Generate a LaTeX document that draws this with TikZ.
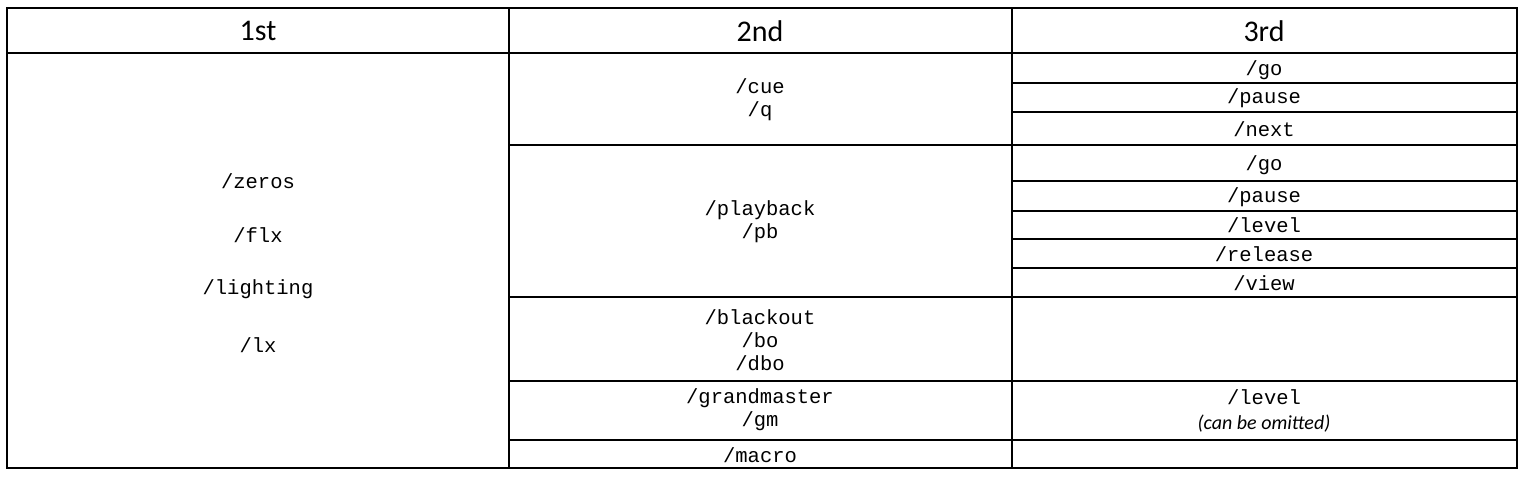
\documentclass[tikz,border=0pt]{standalone}
\usepackage{fontspec}
\setmainfont{Carlito}
\newfontfamily\monofont{Liberation Mono}
\tikzset{
  rule/.style={line width=1.3pt},
  cmd/.style={inner sep=0.75pt, font=\monofont\fontsize{20.5}{23}\selectfont, align=center},
  head/.style={inner sep=0.75pt, font=\fontsize{30}{32}\selectfont},
}
\begin{document}
\begin{tikzpicture}[x=1pt,y=1pt,yscale=-1,xscale=1]
  \useasboundingbox (0,0) rectangle (1524,477);
  % outer frame and column rules
  \draw [rule] (7,8) rectangle (1517,468);
  \draw [rule] (7,53) -- (1517,53);
  \draw [rule] (509,8) -- (509,468);
  \draw [rule] (1012,8) -- (1012,468);
  % row rules of 2nd and 3rd column
  \foreach \y in {145,297,381,440}
    \draw [rule] (509,\y) -- (1517,\y);
  % row rules of 3rd column only
  \foreach \y in {83,112,181,211,239,268}
    \draw [rule] (1012,\y) -- (1517,\y);
  % Text Node
  \node [head] (h1) at (258,31) {1st};
  \node [head] (h2) at (760,31) {2nd};
  \node [head] (h3) at (1264,31) {3rd};
  % Text Node
  \node [cmd] (zeros) at (258,181) {/zeros};
  \node [cmd] (flx) at (258,235) {/flx};
  \node [cmd] (lighting) at (258,289) {/lighting};
  \node [cmd] (lx) at (258,345) {/lx};
  % Text Node
  \node [cmd] (cue) at (760,100) {/cue\\/q};
  \node [cmd] (playback) at (760,222) {/playback\\/pb};
  \node [cmd] (blackout) at (760,340) {/blackout\\/bo\\/dbo};
  \node [cmd] (grandmaster) at (760,410) {/grandmaster\\/gm};
  \node [cmd] (macro) at (760,455) {/macro};
  % Text Node
  \node [cmd] (cuego) at (1264,70) {/go};
  \node [cmd] (cuepause) at (1264,98) {/pause};
  \node [cmd] (cuenext) at (1264,129) {/next};
  \node [cmd] (pbgo) at (1264,165) {/go};
  \node [cmd] (pbpause) at (1264,197) {/pause};
  \node [cmd] (pblevel) at (1264,225) {/level};
  \node [cmd] (pbrelease) at (1264,254) {/release};
  \node [cmd] (pbview) at (1264,283) {/view};
  \node [cmd] (gmlevel) at (1264,397) {/level};
  \node [inner sep=0.75pt, font=\itshape\fontsize{20}{22}\selectfont] (omit) at (1264,424) {(can be omitted)};
\end{tikzpicture}
\end{document}
